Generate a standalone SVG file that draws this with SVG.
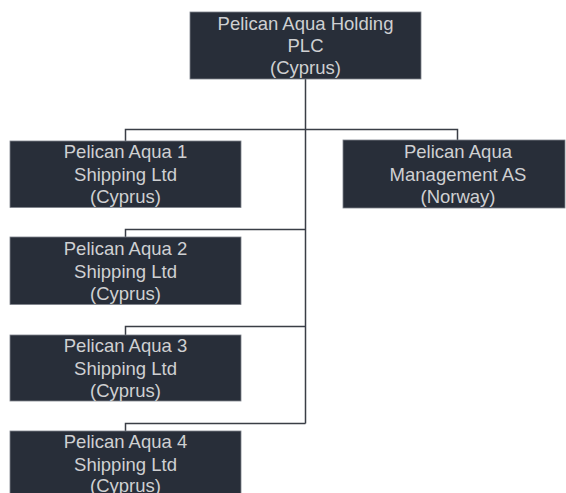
<svg xmlns="http://www.w3.org/2000/svg" width="566" height="493" viewBox="0 0 566 493">
<style>
.box{fill:#282e39;stroke:#7d828a;stroke-width:0.8}
.t{font-family:"Liberation Sans",Arial,sans-serif;font-size:18.5px;fill:#cfd0d2;text-anchor:middle}
.ln{fill:none;stroke:#3a3e46;stroke-width:1.5}
</style>
<rect width="566" height="493" fill="#ffffff"/>
<g id="connectors">
<path class="ln" d="M305.5 79 V423.5"/>
<path class="ln" d="M125.5 141 V129.5 H457.5 V140"/>
<path class="ln" d="M125.5 237 V229.5 H305.5"/>
<path class="ln" d="M125.5 335 V326.5 H305.5"/>
<path class="ln" d="M125.5 431 V423.5 H305.5"/>
</g>
<g id="n0">
<rect class="box" x="190" y="12" width="231" height="67"/>
<text class="t" x="305.5" y="30">Pelican Aqua Holding</text>
<text class="t" x="305.5" y="52">PLC</text>
<text class="t" x="305.5" y="74">(Cyprus)</text>
</g>
<g id="n1">
<rect class="box" x="10" y="141" width="231" height="66.5"/>
<text class="t" x="125.5" y="158">Pelican Aqua 1</text>
<text class="t" x="125.5" y="181">Shipping Ltd</text>
<text class="t" x="125.5" y="203">(Cyprus)</text>
</g>
<g id="n5">
<rect class="box" x="343" y="140" width="222" height="68"/>
<text class="t" x="458" y="158">Pelican Aqua</text>
<text class="t" x="458" y="181">Management AS</text>
<text class="t" x="458" y="203">(Norway)</text>
</g>
<g id="n2">
<rect class="box" x="10" y="237" width="231" height="67.5"/>
<text class="t" x="125.5" y="255">Pelican Aqua 2</text>
<text class="t" x="125.5" y="278">Shipping Ltd</text>
<text class="t" x="125.5" y="300">(Cyprus)</text>
</g>
<g id="n3">
<rect class="box" x="10" y="335" width="231" height="66"/>
<text class="t" x="125.5" y="352">Pelican Aqua 3</text>
<text class="t" x="125.5" y="375">Shipping Ltd</text>
<text class="t" x="125.5" y="397">(Cyprus)</text>
</g>
<g id="n4">
<rect class="box" x="10" y="431" width="231" height="66"/>
<text class="t" x="125.5" y="448">Pelican Aqua 4</text>
<text class="t" x="125.5" y="471">Shipping Ltd</text>
<text class="t" x="125.5" y="492">(Cyprus)</text>
</g>
</svg>
